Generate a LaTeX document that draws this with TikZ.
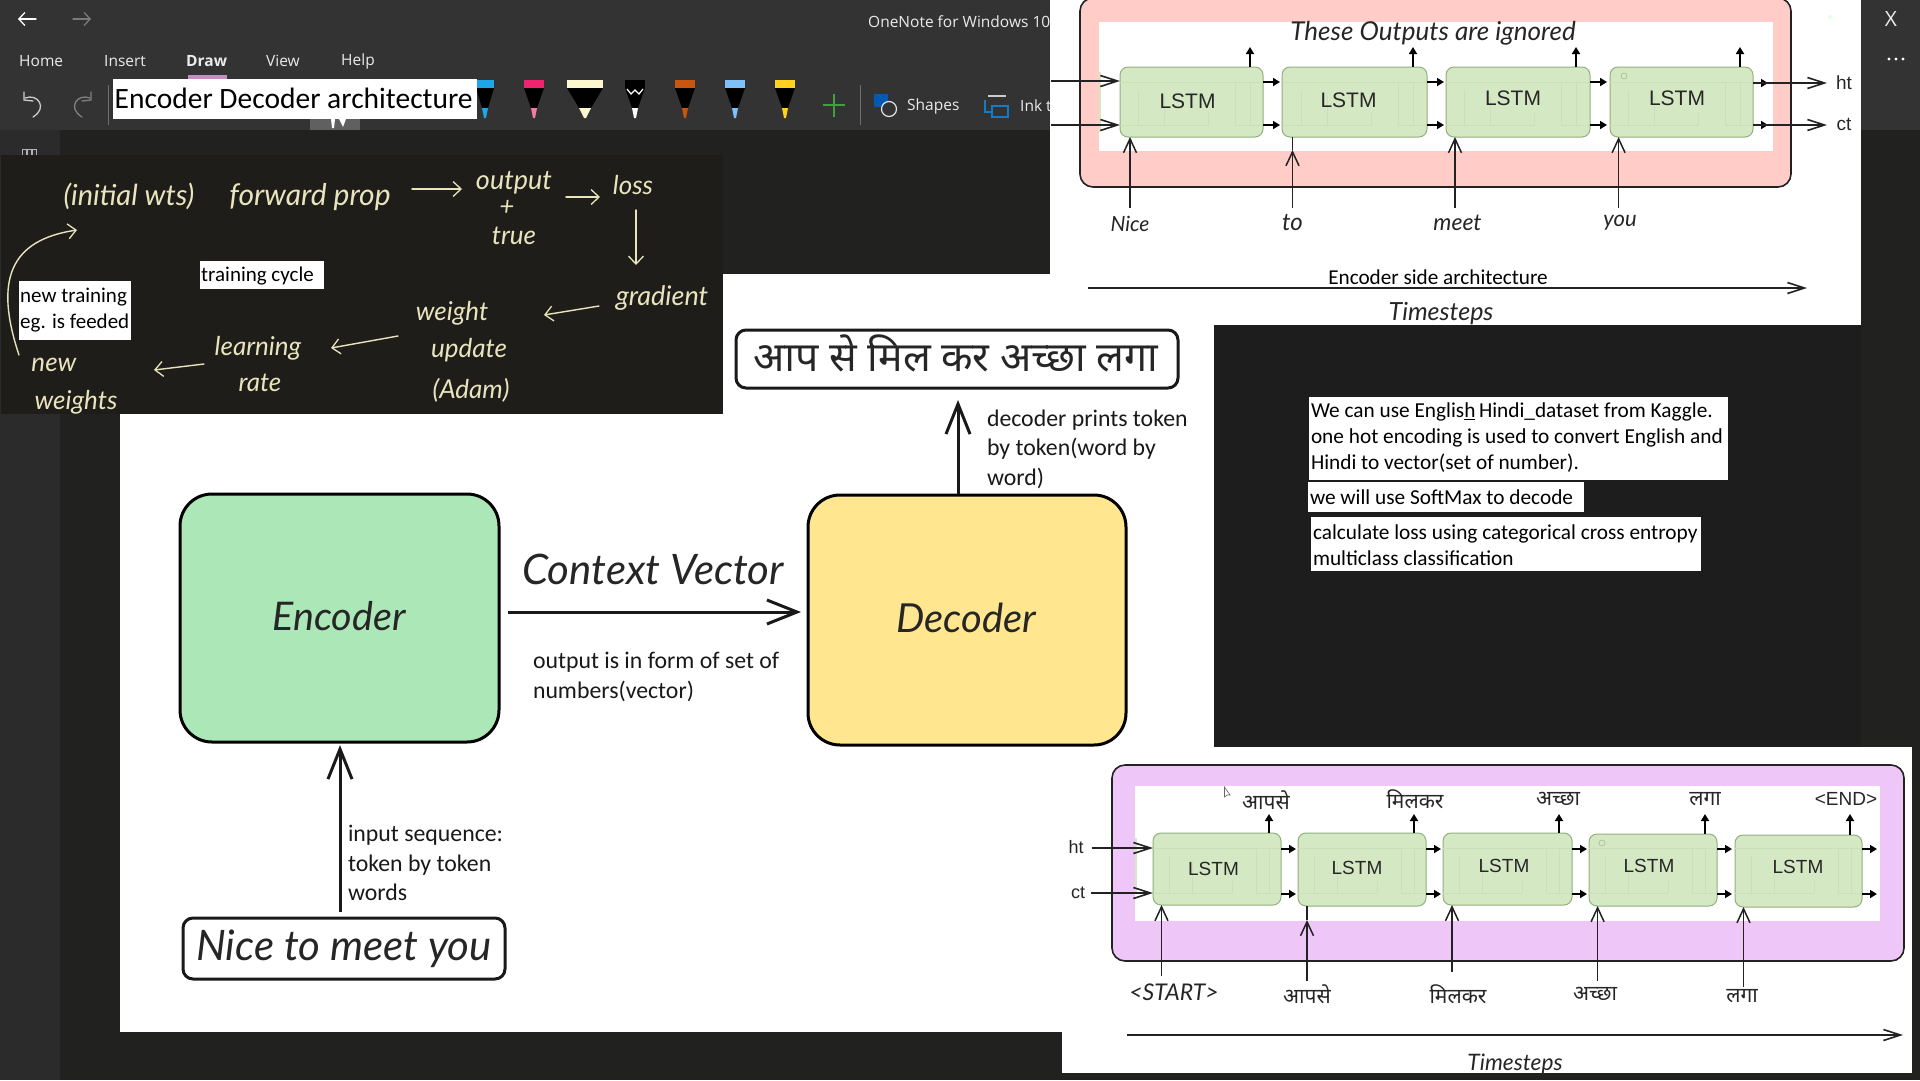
\documentclass[tikz,border=0pt]{standalone}
\usepackage{fontspec}
\usepackage{xcolor}
\usetikzlibrary{arrows.meta,calc}
\setmainfont{Carlito}
\newfontfamily\uif{Open Sans}
\newfontfamily\arialf{Liberation Sans}
\newfontfamily\devf[Script=Devanagari]{Noto Sans}
\newfontfamily\handf[ItalicFont={Lato Italic}]{Lato}
\definecolor{barbg}{HTML}{333333}
\definecolor{appbg}{HTML}{212120}
\definecolor{sidebg}{HTML}{2B2B2B}
\definecolor{inkbg}{HTML}{1F1D1A}
\definecolor{blackbg}{HTML}{1E1D1D}
\definecolor{inkc}{HTML}{E8E5BE}
\definecolor{encf}{HTML}{ABE7B7}
\definecolor{decf}{HTML}{FFE68F}
\definecolor{lstmf}{HTML}{D5E8C4}
\definecolor{lstmd}{HTML}{90B07C}
\definecolor{lstmi}{HTML}{CBDFB9}
\definecolor{pinkf}{HTML}{FFCCC8}
\definecolor{purpf}{HTML}{EFC6F8}
\definecolor{linec}{HTML}{222222}
\newcommand\fs[1]{\fontsize{#1}{#1}\selectfont}
\newcommand\pxnode[6]{\node[#1,minimum width={(#5)-(#3)},minimum height={(#6)-(#4)}] (#2) at ({(#3+#5)/2},{(#4+#6)/2}) {};}
\newcommand\ink[4]{\node[inktext] (#1) at (#2,#3) {#4};}
\newcommand\hw[5]{\node[handtext,font={\handf\itshape\fs{#4}}] (#1) at (#2,#3) {#5};}
\newcommand\pen[5]{%
 \fill[#3] (#1-#2,80) rectangle (#1+#2,88);
 \fill[black] (#1-#2,88) -- (#1+#2,88) -- (#1+#5,108) -- (#1-#5,108) -- cycle;
 \fill[#4] (#1-#5,108) -- (#1+#5,108) -- (#1+1,118) -- (#1-1,118) -- cycle;}
% left x, top line y, bottom line y, width
\newcommand\lstminner[4]{%
 \draw[lstmi,line width=1] (#1,#2) -- ++(#4,0);
 \draw[lstmi,line width=1] (#1,#3) -- ++(#4*0.62,0) (#1+#4*0.13,#3) -- (#1+#4*0.13,#2+8) (#1+#4*0.31,#3) -- (#1+#4*0.31,#2+14) (#1+#4*0.62,#3) -- (#1+#4*0.62,#3-12);
 \draw[lstmi,line width=1] (#1+#4,#3) -- (#1+#4*0.81,#3) -- (#1+#4*0.81,#2) (#1+#4*0.91,#3) -- (#1+#4*0.91,#2);}
\tikzset{
 panelbox/.style={draw=linec,line width=1.6,rounded corners=13,inner sep=0,outer sep=0},
 lstmbox/.style={draw=lstmd,fill=lstmf,line width=1,rounded corners=8,inner sep=0,outer sep=0},
 bigbox/.style={draw=black,line width=3,rounded corners=32,inner sep=0,outer sep=0},
 tagbox/.style={draw=black!90,line width=3,fill=white,rounded corners=10,inner sep=0,outer sep=0},
 note/.style={inner sep=0,outer sep=0,align=left,anchor=west,text=black,font={\fontsize{21.3}{26}\selectfont}},
 label/.style={inner sep=0,outer sep=0,align=left,anchor=west,text=black!90,font={\fontsize{23.8}{29.5}\selectfont}},
 inktext/.style={inner sep=0,text=inkc,font={\handf\itshape\fs{26}}},
 handtext/.style={inner sep=0,text=black!85},
 uitext/.style={inner sep=0,anchor=west,text=white!92!black,font={\uif\fs{15.5}}},
 devtext/.style={inner sep=0,text=black!85,font={\devf\fs{21}}},
 arialtext/.style={inner sep=0,text=black!85,font={\arialf\fs{19}}},
 openarrow/.style={line width=2,draw=linec,-{Straight Barb[length=17,width=11,line width=1.6]}},
 inarrow/.style={line width=1.6,draw=linec,-{Straight Barb[length=14,width=13,line width=1.5]}},
 fatopen/.style={line width=3,draw=black!90,-{Straight Barb[length=30,width=24,line width=3]}},
 stubarrow/.style={line width=1.7,draw=black,-{Triangle[length=7,width=8]}},
 inkline/.style={line width=1.4,draw=inkc,line cap=round,-{Straight Barb[length=8,width=15,line width=1.3]}},
 uiline/.style={line width=1.3,draw=#1,line cap=round},
 lstmt/.style={inner sep=0,font={\arialf\fs{21}},text=black!85},
 lstms/.style={inner sep=0,font={\arialf\fs{19}},text=black!85},
}
\begin{document}
\begin{tikzpicture}[x=1pt,y=-1pt]
\useasboundingbox (0,0) rectangle (1920,1080);
% application background
\fill[appbg] (0,0) rectangle (1920,1080);
\fill[barbg] (0,0) rectangle (1920,130);
\fill[sidebg] (0,130) rectangle (60,1080);
% ribbon
\coordinate (bk1) at (36,19); \coordinate (bk2) at (18,19);
\draw[uiline=white,-{Straight Barb[length=6,width=13,line width=1.3]}] (bk1) -- (bk2);
\coordinate (fw1) at (73,19); \coordinate (fw2) at (91,19);
\draw[uiline=white!35!barbg,-{Straight Barb[length=6,width=13,line width=1.3]}] (fw1) -- (fw2);
\node[uitext] (tw) at (868,22) {OneNote for Windows 10};
\node[uitext] (mhome) at (19,61) {Home};
\node[uitext] (mins) at (104,61) {Insert};
\node[uitext,font={\uif\bfseries\fs{15.5}}] (mdraw) at (186,61) {Draw};
\node[uitext] (mview) at (266,61) {View};
\node[uitext] (mhelp) at (341,61) {Help};
\fill[white!60!black!20!violet!50!white] (188,75) rectangle (227,80);
\draw[uiline=white!80!black] (25,98) .. controls (38,93) and (48,108) .. (33,117);
\draw[uiline=white!80!black] (24,92) -- (24,100) -- (33,101);
\draw[uiline=white!50!black] (90,98) .. controls (77,93) and (67,108) .. (82,117);
\draw[uiline=white!50!black] (91,92) -- (91,100) -- (82,101);
\draw[white!30!barbg,line width=1] (108,85) -- (108,125) (860,85) -- (860,125);
\fill[white!22!barbg] (310,119) rectangle (360,130);
\fill[white] (331,119) -- (335,119) -- (334,128) -- (332,128) -- cycle;
\fill[white] (339,119) -- (346,119) -- (343,127) -- cycle;
\definecolor{pa}{HTML}{1EA7E8}\definecolor{pb}{HTML}{F0246E}\definecolor{pbt}{HTML}{F27DA0}
\definecolor{pc}{HTML}{FDF7CF}\definecolor{pd}{HTML}{C8560F}\definecolor{pe}{HTML}{7FBFFA}\definecolor{pf}{HTML}{FFD21F}
\pen{485}{9}{pa}{pa}{3}
\pen{534}{10}{pb}{pbt}{3}
\pen{585}{18}{pc}{pc}{6}
\pen{635}{10}{black}{white}{3}
\draw[white,line width=1.2] (627,89) -- (631,94) -- (635,90) -- (639,94) -- (643,89);
\pen{685}{10}{pd}{pd}{3}
\pen{735}{10}{pe}{pe}{3}
\pen{785}{10}{pf}{pf}{3}
\draw[green!50!black!75!white,line width=1.5] (834,94) -- (834,117) (823,105) -- (845,105);
\fill[blue!50!cyan!70!black] (874,94) rectangle (888,107);
\draw[white!90!black,line width=1.2,fill=barbg] (889,109) circle (7.5);
\node[uitext] (mshapes) at (907,106) {Shapes};
\draw[cyan!60!blue,line width=1.2] (992,106) rectangle (1008,117) (985,100) -- (985,112) -- (992,112);
\draw[white!80!black,line width=1.2] (988,96) -- (1006,96);
\node[uitext] (mink) at (1020,106) {Ink t};
\draw[white!70!black,line width=.8] (22,149) rectangle (26,155) (27,149) rectangle (31,155) (32,149) rectangle (36,155);
\node[inner sep=0,text=white!92!black,font={\uif\fs{21}}] (closex) at (1891,19) {X};
\fill[white] (1889,59) circle (1.7) (1896,59) circle (1.7) (1903,59) circle (1.7);
% panels
\fill[inkbg] (1,155) rectangle (723,414);
\fill[white] (120,414) rectangle (1214,1032);
\fill[white] (723,274) rectangle (1214,414);
\fill[white] (1050,0) rectangle (1861,325);
\fill[blackbg] (1214,325) rectangle (1861,747);
\fill[white] (1062,747) rectangle (1912,1073);
\fill[white!90!green] (1830,17) circle (2);
% title boxes
\pxnode{fill=white,inner sep=0,outer sep=0}{titlebg}{113}{79}{477}{119}
\node[inner sep=0,anchor=west,text=black,font={\fs{29.5}}] (title) at (114.5,98) {Encoder Decoder architecture};
\pxnode{fill=white,inner sep=0,outer sep=0}{tcyclebg}{200}{261}{324}{289}
\node[inner sep=0,anchor=west,text=black,font={\fs{21}}] (tcycle) at (201,276) {training cycle};
% ink
\ink{i1}{129}{196}{\fs{29}(initial wts)}
\ink{i2}{310}{197}{\fs{30}forward prop}
\ink{i3}{514}{183}{\fs{27}output}
\ink{i4}{507}{208}{+}
\ink{i5}{514}{236}{true}
\ink{i6}{633}{185}{loss}
\ink{i7}{662}{298}{\fs{27}gradient}
\ink{i8}{452}{313}{weight}
\ink{i9}{469}{350}{update}
\ink{i10}{471}{390}{(Adam)}
\ink{i11}{258}{348}{learning}
\ink{i12}{260}{383}{rate}
\ink{i13}{54}{365}{new}
\ink{i14}{76}{402}{weights}
\draw[inkline] (412,189) coordinate (a1) -- (462,189);
\draw[inkline] (566,197) coordinate (a2) -- (600,197);
\draw[inkline] (636,210) coordinate (a3) -- (636,265);
\draw[inkline] (599,306) coordinate (a4) -- (544,315);
\draw[inkline] (398,336) coordinate (a5) -- (331,348);
\draw[inkline] (204,364) coordinate (a6) -- (154,370);
\draw[inkline] (19,355) coordinate (a7) .. controls (-6,280) and (10,240) .. (77,230);
\pxnode{fill=white,inner sep=0,outer sep=0}{newbg}{19}{281}{131}{340}
\node[inner sep=0,anchor=west,align=left,text=black,font={\fontsize{21}{26}\selectfont}] (newtr) at (20,310.5) {new training\\eg. is feeded};
% big diagram
\pxnode{bigbox,fill=encf}{enc}{180}{494}{499}{742}
\pxnode{bigbox,fill=decf}{dec}{808}{495}{1126}{745}
\pxnode{tagbox}{outbox}{736}{330}{1178}{388}
\pxnode{tagbox}{inbox}{183}{918}{505}{979}
\hw{enct}{339}{616}{39.5}{Encoder}
\hw{dect}{966}{618}{40}{Decoder}
\hw{cvt}{653}{569}{42}{Context Vector}
\hw{nt}{344}{949}{42}{Nice to meet you}
\node[inner sep=0,text=black!85,font={\devf\fs{41}}] (hindi) at (956,353) {आप से मिल कर अच्छा लगा};
\coordinate (c1) at (508,612); \coordinate (c1e) at (801,612);
\draw[fatopen] (c1) -- (c1e);
\coordinate (c2) at (340,912); \coordinate (c2e) at (340,745);
\draw[fatopen] (c2) -- (c2e);
\coordinate (c3) at (958,494); \coordinate (c3e) at (958,400);
\draw[fatopen] (c3) -- (c3e);
\node[label] (l1) at (533,677) {output is in form of set of\\numbers(vector)};
\node[label] (l2) at (987,449) {decoder prints token\\by token(word by\\word)};
\node[label] (l3) at (348,863) {input sequence:\\token by token\\words};
% encoder panel
\pxnode{panelbox,fill=pinkf}{epink}{1080}{-2}{1791}{187}
\fill[white] (1099,22) rectangle (1773,151);
\fill[lstmf] (1099,72) rectangle (1101,132);
\pxnode{lstmbox}{e1}{1120}{67}{1263}{137}
\pxnode{lstmbox}{e2}{1282}{67}{1427}{137}
\pxnode{lstmbox}{e3}{1446}{67}{1590}{137}
\pxnode{lstmbox}{e4}{1610}{67}{1753}{137}
\foreach \x in {1120,1283,1446,1610}{\lstminner{\x}{82}{125}{143}}
\draw[lstmd!60!lstmf,line width=.8] (1624,76) circle (3);
\node[lstmt] (et1) at (1187.5,101) {LSTM};
\node[lstmt] (et2) at (1348.5,100) {LSTM};
\node[lstmt] (et3) at (1513,98) {LSTM};
\node[lstmt] (et4) at (1677,98) {LSTM};
\node[inner sep=0,font={\handf\itshape\fs{26}},text=black!85] (eout) at (1433,33) {These Outputs are ignored};
\coordinate (eh0) at (1051,81); \coordinate (ec0) at (1051,125);
\draw[openarrow] (eh0) -- (e1.west |- eh0);
\draw[openarrow] (ec0) -- (e1.west |- ec0);
\foreach \a/\b in {1/2,2/3,3/4}{
 \draw[stubarrow] (e\a.east |- 0,82) -- ++(17,0);
 \draw[stubarrow] (e\a.east |- 0,125) -- ++(17,0);
}
\node[arialtext] (eht) at (1844,83) {ht};
\node[arialtext] (ect) at (1844,124) {ct};
\draw[stubarrow] (e4.east |- 0,83) -- ++(15,0);
\draw[stubarrow] (e4.east |- 0,125) -- ++(15,0);
\draw[openarrow] (e4.east |- 0,83) -- (1827,83);
\draw[openarrow] (e4.east |- 0,125) -- (1827,125);
\foreach \n/\x in {1/1250,2/1413,3/1576,4/1740}{
 \coordinate (eu\n) at (\x,47);
 \draw[stubarrow] (e\n.north -| eu\n) -- (eu\n);
}
\hw{ew1}{1130}{224}{21}{Nice}
\hw{ew2}{1292.5}{223}{24}{to}
\hw{ew3}{1457.5}{223}{23}{meet}
\hw{ew4}{1620}{223}{22}{you}
\coordinate (ei1) at (1130,208); \coordinate (ei2) at (1292.5,208);
\coordinate (ei3) at (1455,208); \coordinate (ei4) at (1618.6,208);
\draw[inarrow] (ei1) -- (e1.south -| ei1);
\draw[inarrow] (ei2) -- (1292.5,150);
\draw[line width=1.6,draw=linec] (1292.5,150) -- (e2.south -| ei2);
\draw[inarrow] (ei3) -- (e3.south -| ei3);
\draw[inarrow] (ei4) -- (e4.south -| ei4);
\coordinate (et0) at (1088,288); \coordinate (et9) at (1807,288);
\draw[openarrow] (et0) -- (et9);
\node[inner sep=0,font={\fs{21.2}},text=black] (ecap) at (1438,277) {Encoder side architecture};
\hw{ets}{1441}{314}{25}{Timesteps}
% decoder panel
\pxnode{panelbox,fill=purpf}{dpink}{1112}{765}{1904}{961}
\fill[white] (1135,786) rectangle (1880,921);
\fill[lstmf] (1135,838) rectangle (1137,894);
\pxnode{lstmbox}{d1}{1153}{833}{1281}{905}
\pxnode{lstmbox}{d2}{1298}{833}{1426}{906}
\pxnode{lstmbox}{d3}{1443}{833}{1572}{905}
\pxnode{lstmbox}{d4}{1589}{834}{1717}{906}
\pxnode{lstmbox}{d5}{1735}{835}{1862}{907}
\foreach \x in {1153,1298,1443,1589,1735}{\lstminner{\x}{848}{893}{128}}
\draw[lstmd!60!lstmf,line width=.8] (1602,843) circle (3);
\node[lstms] (dt1) at (1213.5,869) {LSTM};
\node[lstms] (dt2) at (1357,868) {LSTM};
\node[lstms] (dt3) at (1504,866) {LSTM};
\node[lstms] (dt4) at (1649,866) {LSTM};
\node[lstms] (dt5) at (1798,867) {LSTM};
\foreach \a in {1,2,3,4,5}{
 \draw[stubarrow] (d\a.east |- 0,849) -- ++(15,0);
 \draw[stubarrow] (d\a.east |- 0,894) -- ++(15,0);
}
\node[arialtext,font={\arialf\fs{18}}] (dht) at (1076,847) {ht};
\node[arialtext,font={\arialf\fs{18}}] (dct) at (1078,893) {ct};
\draw[openarrow] (dht.east) ++(8,1) coordinate (dh0) -- (d1.west |- dh0);
\draw[openarrow] (dct.east) ++(6,0) coordinate (dc0) -- (d1.west |- dc0);
\foreach \n/\x in {1/1269,2/1414,3/1559,4/1705,5/1850}{
 \coordinate (du\n) at (\x,814);
 \draw[stubarrow] (d\n.north -| du\n) -- (du\n);
}
\node[devtext] (do1) at (1266,800) {आपसे};
\node[devtext] (do2) at (1415,799) {मिलकर};
\node[devtext] (do3) at (1558,799) {अच्छा};
\node[devtext] (do4) at (1705,799) {लगा};
\node[arialtext] (do5) at (1846,799) {<END>};
\hw{dw1}{1174}{992}{23}{<START>}
\node[devtext] (dw2) at (1307,994) {आपसे};
\node[devtext] (dw3) at (1458,994) {मिलकर};
\node[devtext] (dw4) at (1595,994) {अच्छा};
\node[devtext] (dw5) at (1742,996) {लगा};
\coordinate (di1) at (1161.5,976); \coordinate (di2) at (1307,981); \coordinate (di3) at (1452,972); \coordinate (di4) at (1597.6,981); \coordinate (di5) at (1743.5,987);
\draw[inarrow] (di1) -- (d1.south -| di1);
\draw[inarrow] (di2) -- (1307,920);
\draw[line width=1.6,draw=linec] (1307,920) -- (d2.south -| di2);
\draw[inarrow] (di3) -- (d3.south -| di3);
\draw[inarrow] (di4) -- (d4.south -| di4);
\draw[inarrow] (di5) -- (d5.south -| di5);
\coordinate (dt0) at (1127,1035); \coordinate (dt9) at (1903,1035);
\draw[openarrow] (dt0) -- (dt9);
\hw{dts}{1515}{1064}{22.7}{Timesteps}
\fill[white] (1224.5,787) -- (1224.5,797) -- (1227,795) -- (1230,795) -- cycle;
\draw[black!60,line width=.6] (1224.5,787) -- (1224.5,797) -- (1227,795) -- (1230,795) -- cycle;
% notes on the black panel
\pxnode{fill=white,inner sep=0,outer sep=0}{n1bg}{1309}{397}{1728}{480}
\pxnode{fill=white,inner sep=0,outer sep=0}{n2bg}{1308}{482}{1584}{512}
\pxnode{fill=white,inner sep=0,outer sep=0}{n3bg}{1311}{517}{1701}{571}
\node[note] (n1) at (1311,438) {We can use Englis\underline{h}\,Hindi\_dataset from Kaggle.\\one hot encoding is used to convert English and\\Hindi to vector(set of number).};
\node[note] (n2) at (1310,497) {we will use SoftMax to decode};
\node[note] (n3) at (1313,545) {calculate loss using categorical cross entropy\\multiclass classification};
\end{tikzpicture}
\end{document}
